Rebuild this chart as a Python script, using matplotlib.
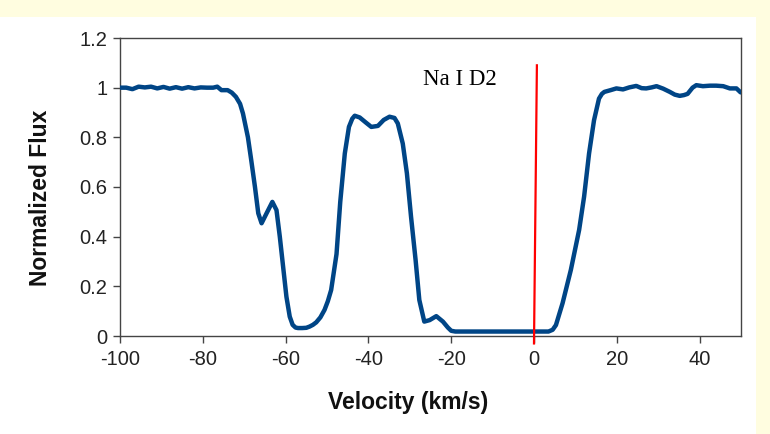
import matplotlib
matplotlib.use('agg')
import matplotlib.pyplot as plt
from matplotlib.patches import Rectangle
from matplotlib.ticker import FuncFormatter

# Na I D2 absorption profile
velocity = [-100, -98.5, -97, -95.5, -94, -92.5, -91, -89.5, -88, -86.5,
            -85, -83.5, -82, -80.5, -79, -77.5, -76.5, -75.5, -74, -73,
            -72, -71, -70.3, -69.1, -68.3, -67.4, -66.6, -65.8, -64.6, -63.2,
            -62.2, -61.4, -60.6, -59.8, -59.0, -58.3, -57.6, -57, -56, -55, -54.2,
            -53.4, -52.6, -51.6, -50.6, -49.8, -49.0, -47.7, -46.8, -45.7, -44.7,
            -43.9, -43.3, -42.1, -40.5, -39.3, -37.7, -36.3, -34.9, -33.7, -32.9, -31.7,
            -30.7, -29.7, -28.6, -27.7, -26.5, -25.2, -23.6, -22.0, -20.8, -20.0, -19.0,
            3.5, 4.5, 5.3, 6.9, 8.9, 10.9, 12.1, 13.3, 14.5, 15.7,
            16.4, 17.0, 18.5, 19.9, 21.5, 23.0, 24.7, 26.0, 27.1, 28.4, 29.6,
            31.2, 32.8, 34.0, 35.2, 36.2, 37.1, 38.3, 39.2, 40.8, 42.5,
            44.0, 45.7, 47.3, 48.9, 49.9]
flux = [1.000, 1.000, 0.994, 1.004, 1.001, 1.004, 0.997, 1.003, 0.996, 1.002,
        0.996, 1.002, 0.997, 1.001, 1.000, 1.000, 1.004, 0.990, 0.990, 0.980,
        0.963, 0.935, 0.896, 0.800, 0.708, 0.600, 0.494, 0.454, 0.494, 0.540,
        0.507, 0.400, 0.279, 0.158, 0.078, 0.045, 0.034, 0.032, 0.032, 0.033, 0.038,
        0.045, 0.055, 0.075, 0.105, 0.140, 0.185, 0.330, 0.540, 0.735, 0.842,
        0.875, 0.887, 0.880, 0.858, 0.842, 0.846, 0.870, 0.883, 0.878, 0.856, 0.775,
        0.655, 0.480, 0.306, 0.145, 0.058, 0.064, 0.080, 0.058, 0.034, 0.021, 0.018,
        0.018, 0.025, 0.044, 0.132, 0.266, 0.427, 0.561, 0.735, 0.869, 0.956,
        0.975, 0.983, 0.990, 0.997, 0.993, 1.001, 1.007, 0.998, 0.997, 1.001, 1.006,
        0.996, 0.983, 0.972, 0.967, 0.970, 0.975, 1.000, 1.010, 1.006, 1.008,
        1.008, 1.006, 0.997, 0.997, 0.981]

marker_v = [0.0, 0.7]
marker_f = [-0.03, 1.09]

y_ticks = [0, 0.2, 0.4, 0.6, 0.8, 1.0, 1.2]
x_ticks = [-100, -80, -60, -40, -20, 0, 20, 40]

fig = plt.figure(figsize=(7.7, 4.34), dpi=100)
fig.patch.set_facecolor('#FFFDE0')
fig.patches.append(Rectangle((0, 0), 756 / 770, 417 / 434, transform=fig.transFigure,
                             facecolor='white', edgecolor='none', zorder=-10))

ax = fig.add_axes([120 / 770, 1 - 336 / 434, 621 / 770, 298 / 434])
ax.set_facecolor('white')

ax.plot(velocity, flux, color='#004586', linewidth=3.2, solid_joinstyle='round',
        solid_capstyle='round', zorder=3)
ax.plot(marker_v, marker_f, color='#FF0000', linewidth=1.6, clip_on=False, zorder=4)
ax.text(-26.8, 1.01, 'Na I D2', family='Liberation Serif', fontsize=16.5, color='black')

ax.set_xlim(-100, 50)
ax.set_ylim(0, 1.2)
ax.set_xticks(x_ticks)
ax.set_yticks(y_ticks)
ax.yaxis.set_major_formatter(FuncFormatter(lambda v, p: f'{v:g}'))
ax.xaxis.set_major_formatter(FuncFormatter(lambda v, p: f'{v:g}'))

for spine in ax.spines.values():
    spine.set_color('#444444')
    spine.set_linewidth(1)
ax.tick_params(axis='both', direction='out', length=5, width=1, color='#444444',
               labelsize=14.5, labelcolor='#222222')
ax.tick_params(axis='x', pad=5)
ax.tick_params(axis='y', pad=4)
for lab in ax.get_xticklabels() + ax.get_yticklabels():
    lab.set_family('Liberation Sans')

ax.set_xlabel('Velocity (km/s)', family='Liberation Sans', fontsize=16.5,
              fontweight='bold', color='#111111')
ax.set_ylabel('Normalized Flux', family='Liberation Sans', fontsize=16.5,
              fontweight='bold', color='#111111')
ax.xaxis.set_label_coords(0.464, -0.222)
ax.yaxis.set_label_coords(-0.128, 0.463)
ax.xaxis.label.set_va('center')
ax.yaxis.label.set_va('center')

plt.savefig('out.png', dpi=100, facecolor=fig.get_facecolor())
